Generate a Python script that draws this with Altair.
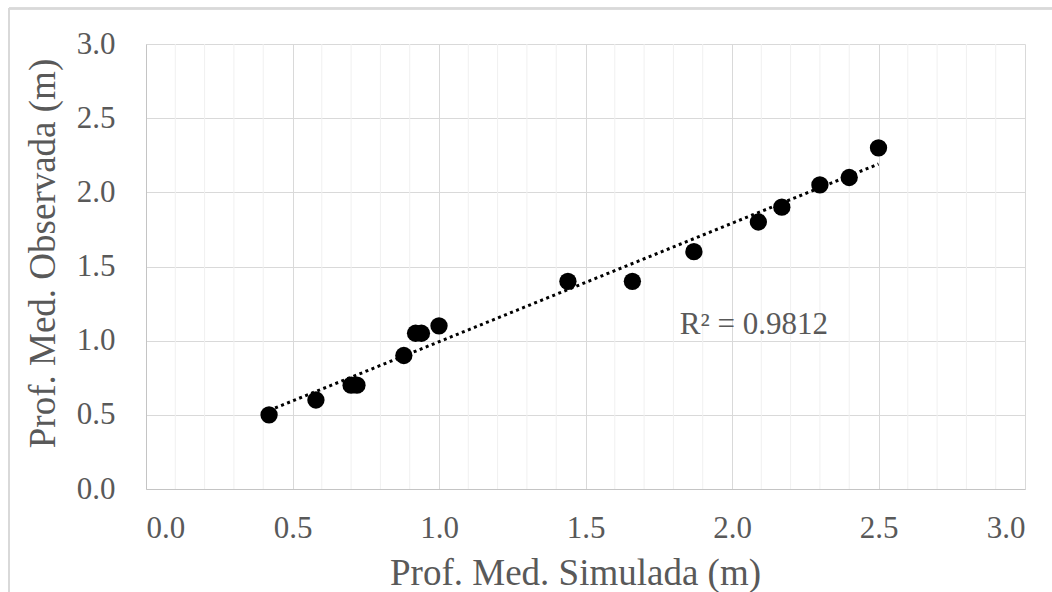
import altair as alt
import pandas as pd

# Simulated vs. observed mean depth (m)
simulada = [0.42, 0.58, 0.70, 0.72, 0.88, 0.92, 0.94, 1.00, 1.44, 1.66, 1.87, 2.09, 2.17, 2.30, 2.40, 2.50]
observada = [0.50, 0.60, 0.70, 0.70, 0.90, 1.05, 1.05, 1.10, 1.40, 1.40, 1.60, 1.80, 1.90, 2.05, 2.10, 2.30]

major_ticks = [0.0, 0.5, 1.0, 1.5, 2.0, 2.5, 3.0]
minor_ticks = [round(i * 0.1, 1) for i in range(1, 30) if i % 5 != 0]

r2_text = "R² = 0.9812"
r2_pos = {"x": 2.075, "y": 1.106}

FONT = "Liberation Serif"
GREY = "#595959"

df = pd.DataFrame({"sim": simulada, "obs": observada})
minor_df = pd.DataFrame({"v": minor_ticks})
label_df = pd.DataFrame({"x": [r2_pos["x"]], "y": [r2_pos["y"]], "t": [r2_text]})

x_scale = alt.Scale(domain=[0, 3], nice=False, zero=True)
y_scale = alt.Scale(domain=[0, 3], nice=False, zero=True)

x_axis = alt.Axis(
    values=major_ticks, format=".1f", title="Prof. Med. Simulada (m)",
    grid=True, gridColor="#d9d9d9", ticks=False,
    domainColor="#c4c4c4", labelPadding=24, labelBaseline="top",
    titleX=429, titleY=95, titleBaseline="alphabetic",
)
y_axis = alt.Axis(
    values=major_ticks, format=".1f", title="Prof. Med. Observada (m)",
    grid=True, gridColor="#d9d9d9", ticks=False,
    domainColor="#c4c4c4", labelPadding=31, labelBaseline="middle",
    titleAngle=-90, titleX=-103, titleY=209, titleBaseline="middle",
    titleAlign="center",
)

minor_grid = alt.Chart(minor_df).mark_rule(color="#f0f0f0", strokeWidth=1).encode(
    x=alt.X("v:Q", scale=x_scale, axis=x_axis),
)

points = alt.Chart(df).mark_circle(size=300, color="black", opacity=1).encode(
    x=alt.X("sim:Q", scale=x_scale, axis=x_axis),
    y=alt.Y("obs:Q", scale=y_scale, axis=y_axis),
)

trend = alt.Chart(df).transform_regression("sim", "obs").mark_line(
    color="black", strokeWidth=3, strokeDash=[3, 3.5]
).encode(
    x=alt.X("sim:Q", scale=x_scale),
    y=alt.Y("obs:Q", scale=y_scale),
)

r2_label = alt.Chart(label_df).mark_text(
    font=FONT, fontSize=31, color=GREY, align="center", baseline="middle"
).encode(
    x=alt.X("x:Q", scale=x_scale),
    y=alt.Y("y:Q", scale=y_scale),
    text="t:N",
)

# light frame of the chart area
frame_top = alt.Chart(df).mark_rule(color="#d9d9d9", strokeWidth=1.5).encode(
    x=alt.value(-137), x2=alt.value(910), y=alt.value(-35.5)
)
frame_left = alt.Chart(df).mark_rule(color="#d9d9d9", strokeWidth=1.5).encode(
    x=alt.value(-137), y=alt.value(-36), y2=alt.value(560)
)

chart = alt.layer(minor_grid, trend, points, r2_label, frame_top, frame_left).properties(
    width=879, height=445,
    autosize=alt.AutoSizeParams(type="none"),
    padding={"left": 146, "top": 44, "right": 27, "bottom": 103},
    background="white",
).configure_view(stroke=None).configure_axis(
    labelFont=FONT, labelFontSize=31, labelColor=GREY,
    titleFont=FONT, titleFontSize=37, titleColor=GREY, titleFontWeight="normal",
)

chart.save("out.html", embed_options={"renderer": "svg", "actions": False})
